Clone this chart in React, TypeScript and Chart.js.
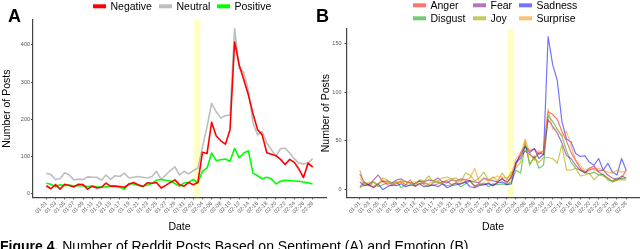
import React, { useEffect, useRef } from 'react';
import { Chart, registerables } from 'chart.js';

Chart.register(...registerables);

const FONT = '"Liberation Sans", Arial, Helvetica, sans-serif';
const H = 249;

// ---- data ----
const dates = [
  '01-01','01-02','01-03','01-04','01-05','01-06','01-07','01-08','01-09','01-10',
  '01-11','01-12','01-13','01-14','01-15','01-16','01-17','01-18','01-19','01-20',
  '01-21','01-22','01-23','01-24','01-25','01-26','01-27','01-28','01-29','01-30',
  '01-31','02-01','02-02','02-03','02-04','02-05','02-06','02-07','02-08','02-09',
  '02-10','02-11','02-12','02-13','02-14','02-15','02-16','02-17','02-18','02-19',
  '02-20','02-21','02-22','02-23','02-24','02-25','02-26','02-27','02-28',
];

const negative = [
  21,13,24,12,25,22,18,25,24,12,
  20,15,17,28,20,20,19,17,25,30,
  24,19,29,28,30,15,22,30,37,24,
  20,30,24,30,111,108,192,155,142,133,
  172,408,346,306,265,215,172,158,110,106,
  102,92,78,92,84,66,43,82,71,
];
const neutral = [
  55,51,38,40,56,50,37,39,38,45,
  44,44,36,50,38,48,46,55,42,44,
  46,44,42,46,60,38,50,62,72,50,
  60,53,62,68,125,180,243,220,203,210,
  211,444,337,326,279,190,158,167,136,118,
  100,121,122,109,94,82,80,82,94,
];
const positive = [
  28,25,18,24,21,23,20,22,21,19,
  20,18,17,18,20,19,17,12,27,26,
  22,20,23,27,36,38,36,34,27,20,
  29,30,38,29,60,69,109,89,91,93,
  87,122,96,109,115,55,48,40,44,40,
  26,33,36,35,34,33,31,29,26,
];

const anger = [
  3,8,4,3,6,9,5,4,6,8,
  5,10,3,6,7,5,4,6,8,9,
  5,7,6,8,9,3,6,5,7,4,
  8,12,6,14,25,38,45,40,42,36,
  40,80,77,72,60,50,38,30,22,18,
  20,22,18,15,12,8,10,12,20,
];
const disgust = [
  2,5,6,8,3,5,7,6,8,2,
  5,4,6,9,5,3,7,8,6,4,
  5,7,3,6,9,4,5,7,3,6,
  5,6,5,8,20,17,47,25,35,22,
  25,76,70,62,55,40,28,22,20,18,
  16,18,15,16,10,9,12,11,12,
];
const fear = [
  16,7,5,10,15,8,9,7,10,11,
  8,7,6,9,8,10,9,12,8,7,
  10,9,11,10,9,8,7,12,10,9,
  8,11,8,12,28,32,40,36,32,38,
  36,72,65,58,48,35,32,25,20,17,
  22,24,19,20,15,12,10,14,12,
];
const joy = [
  20,6,4,8,5,12,10,6,7,9,
  8,7,6,10,9,14,8,9,12,13,
  11,12,8,17,15,9,12,18,10,13,
  9,17,10,18,22,28,50,27,32,28,
  33,33,32,27,46,20,20,22,14,15,
  17,10,15,14,12,8,10,10,10,
];
const sadness = [
  8,4,5,2,6,0,3,5,4,6,
  3,5,4,6,3,4,5,3,6,2,
  4,5,6,8,3,2,4,5,6,4,
  7,8,5,6,28,35,44,38,42,32,
  36,157,128,112,70,52,49,37,34,35,
  28,25,32,20,27,18,15,32,20,
];
const surprise = [
  12,5,8,3,6,10,7,6,8,7,
  9,6,8,5,7,6,9,8,7,10,
  11,8,9,10,12,22,8,11,9,12,
  14,13,12,15,32,36,52,38,30,40,
  38,83,62,62,55,60,45,30,25,20,
  22,20,22,20,18,17,20,18,19,
];

const sentimentTicks = [0, 100, 200, 300, 400];
const emotionTicks = [0, 50, 100, 150];
const eventWindow = [32.2, 33.5];

// ---- plugins ----
function bandPlugin(from: number, to: number, color: string) {
  return {
    id: 'band',
    beforeDatasetsDraw(chart: any) {
      const { ctx, chartArea, scales } = chart;
      const x1 = scales.x.getPixelForValue(from);
      const x2 = scales.x.getPixelForValue(to);
      ctx.save();
      ctx.fillStyle = color;
      ctx.fillRect(x1, chartArea.top, x2 - x1, chartArea.bottom - chartArea.top);
      ctx.restore();
    },
  };
}

function legendPlugin(items: { ds: number; x: number; y: number }[]) {
  return {
    id: 'ggLegend',
    afterDraw(chart: any) {
      const ctx = chart.ctx;
      ctx.save();
      ctx.font = `10.5px ${FONT}`;
      ctx.textBaseline = 'middle';
      ctx.textAlign = 'left';
      items.forEach((it) => {
        const ds = chart.data.datasets[it.ds];
        ctx.strokeStyle = ds.borderColor;
        ctx.lineWidth = 4;
        ctx.lineCap = 'butt';
        ctx.beginPath();
        ctx.moveTo(it.x, it.y);
        ctx.lineTo(it.x + 13, it.y);
        ctx.stroke();
        ctx.fillStyle = '#000';
        ctx.fillText(ds.label, it.x + 17.5, it.y + 0.5);
      });
      ctx.restore();
    },
  };
}

type Series = { label: string; values: number[]; color: string; order: number };

function makeConfig(p: {
  series: Series[];
  yMin: number; yMax: number; yTicks: number[];
  canvasW: number; left: number; right: number; top: number; bottom: number;
  lineWidth: number; yTitlePad: number; yTickPad: number;
  legend: { ds: number; x: number; y: number }[];
}) {
  const axisColor = '#444';
  const tickFont = { size: 5.5, family: FONT };
  return {
    type: 'line',
    data: {
      datasets: p.series.map((s) => ({
        label: s.label,
        data: s.values.map((v, i) => ({ x: i, y: v })),
        borderColor: s.color,
        backgroundColor: s.color,
        borderWidth: p.lineWidth,
        pointRadius: 0,
        pointHoverRadius: 0,
        tension: 0,
        borderJoinStyle: 'round',
        fill: false,
        order: s.order,
      })),
    },
    options: {
      responsive: false,
      animation: false,
      devicePixelRatio: 1,
      events: [],
      layout: { padding: { top: p.top, right: p.canvasW - p.right, left: 0, bottom: 0 } },
      plugins: {
        legend: { display: false },
        tooltip: { enabled: false },
        title: { display: false },
      },
      scales: {
        x: {
          type: 'linear',
          min: -2.9,
          max: 60.9,
          afterBuildTicks: (s: any) => {
            s.ticks = dates.map((_, i) => i).filter((i) => i % 2 === 0).map((v) => ({ value: v }));
          },
          afterFit: (s: any) => { s.height = H - p.bottom; },
          ticks: {
            autoSkip: false,
            minRotation: 45,
            maxRotation: 45,
            font: tickFont,
            color: '#555',
            padding: 1,
            callback: (v: any) => dates[v] ?? '',
          },
          grid: { display: true, drawOnChartArea: false, drawTicks: true, tickLength: 2, color: axisColor, lineWidth: 1 },
          border: { display: true, color: axisColor, width: 1.2 },
          title: { display: true, text: 'Date', color: '#000', font: { size: 10.5, family: FONT }, padding: { top: 0, bottom: 15.2 } },
        },
        y: {
          type: 'linear',
          min: p.yMin,
          max: p.yMax,
          afterBuildTicks: (s: any) => { s.ticks = p.yTicks.map((v) => ({ value: v })); },
          afterFit: (s: any) => { s.width = p.left; },
          ticks: { font: tickFont, color: '#555', padding: p.yTickPad },
          grid: { display: true, drawOnChartArea: false, drawTicks: true, tickLength: 2, color: axisColor, lineWidth: 1 },
          border: { display: true, color: axisColor, width: 1.2 },
          title: { display: true, text: 'Number of Posts', color: '#000', font: { size: 10.5, family: FONT }, padding: { top: p.yTitlePad, bottom: 0 } },
        },
      },
    },
    plugins: [bandPlugin(eventWindow[0], eventWindow[1], 'rgba(255,255,0,0.25)'), legendPlugin(p.legend)],
  } as any;
}

export default function App() {
  const refA = useRef<HTMLCanvasElement>(null);
  const refB = useRef<HTMLCanvasElement>(null);

  useEffect(() => {
    const a = new Chart(refA.current!, makeConfig({
      series: [
        { label: 'Negative', values: negative, color: '#FF0000', order: 0 },
        { label: 'Neutral', values: neutral, color: '#BEBEBE', order: 2 },
        { label: 'Positive', values: positive, color: '#00FF00', order: 1 },
      ],
      yMin: -10, yMax: 467, yTicks: sentimentTicks,
      canvasW: 330, left: 33, right: 326, top: 20, bottom: 197.3,
      lineWidth: 1.6, yTitlePad: 1.2, yTickPad: 1,
      legend: [
        { ds: 0, x: 93, y: 6.3 },
        { ds: 1, x: 159, y: 6.3 },
        { ds: 2, x: 217, y: 6.3 },
      ],
    }));
    const b = new Chart(refB.current!, makeConfig({
      series: [
        { label: 'Anger', values: anger, color: 'rgba(255,0,0,0.55)', order: 5 },
        { label: 'Disgust', values: disgust, color: 'rgba(0,160,0,0.55)', order: 4 },
        { label: 'Fear', values: fear, color: 'rgba(128,0,128,0.55)', order: 3 },
        { label: 'Joy', values: joy, color: 'rgba(170,170,0,0.65)', order: 2 },
        { label: 'Sadness', values: sadness, color: 'rgba(0,0,255,0.55)', order: 1 },
        { label: 'Surprise', values: surprise, color: 'rgba(255,140,0,0.55)', order: 0 },
      ],
      yMin: -7.85, yMax: 164.85, yTicks: emotionTicks,
      canvasW: 320, left: 26.5, right: 319.5, top: 29, bottom: 197.3,
      lineWidth: 1.2, yTitlePad: 0, yTickPad: 3,
      legend: [
        { ds: 0, x: 93, y: 5.3 },
        { ds: 1, x: 93, y: 18.3 },
        { ds: 2, x: 153, y: 5.3 },
        { ds: 3, x: 153, y: 18.3 },
        { ds: 4, x: 199, y: 5.3 },
        { ds: 5, x: 199, y: 18.3 },
      ],
    }));
    return () => { a.destroy(); b.destroy(); };
  }, []);

  const letter: React.CSSProperties = {
    position: 'absolute', top: 6.8, fontFamily: FONT, fontWeight: 'bold',
    fontSize: 18, lineHeight: '18px', color: '#000', whiteSpace: 'nowrap',
  };

  return (
    <div style={{ position: 'absolute', left: 0, top: 0, width: 640, height: 249, overflow: 'hidden', background: '#fff' }}>
      <canvas ref={refA} width={330} height={249} style={{ position: 'absolute', left: 0, top: 0, width: 330, height: 249 }} />
      <canvas ref={refB} width={320} height={249} style={{ position: 'absolute', left: 320, top: 0, width: 320, height: 249 }} />
      <div style={{ ...letter, left: 8 }}>A</div>
      <div style={{ ...letter, left: 316 }}>B</div>
      <div style={{ position: 'absolute', left: 0, top: 238.2, fontFamily: FONT, fontSize: 14, lineHeight: '16px', color: '#000', whiteSpace: 'nowrap' }}>
        <b>Figure 4.</b> Number of Reddit Posts Based on Sentiment (A) and Emotion (B)
      </div>
    </div>
  );
}
